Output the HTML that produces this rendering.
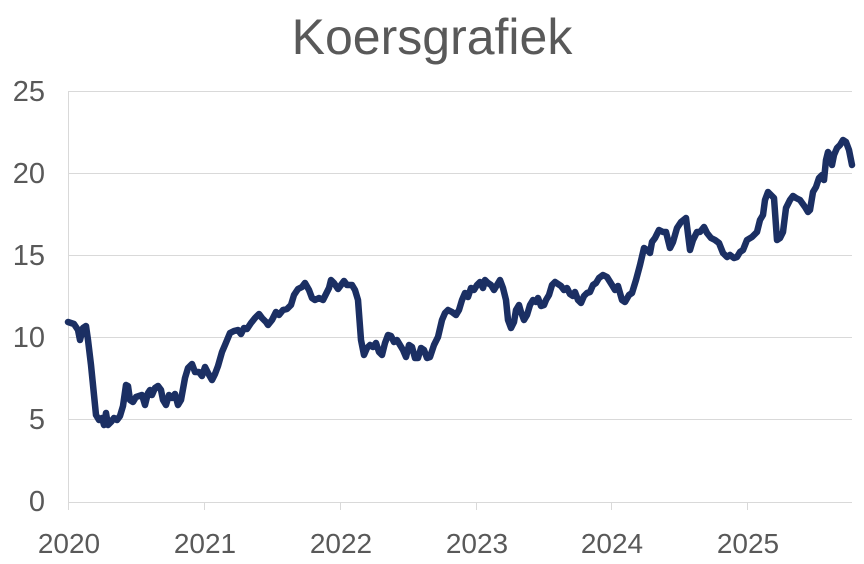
<!DOCTYPE html>
<html><head><meta charset="utf-8"><style>
html,body{margin:0;padding:0;background:#fff;}
svg{display:block;font-family:"Liberation Sans",sans-serif;}
</style></head><body>
<svg width="864" height="564" viewBox="0 0 864 564">
<text x="432" y="54" text-anchor="middle" font-size="50" fill="#595959">Koersgrafiek</text>
<g stroke="#d9d9d9" stroke-width="1">
<line x1="68" y1="91.5" x2="852" y2="91.5"/>
<line x1="68" y1="173.5" x2="852" y2="173.5"/>
<line x1="68" y1="255.5" x2="852" y2="255.5"/>
<line x1="68" y1="337.5" x2="852" y2="337.5"/>
<line x1="68" y1="419.5" x2="852" y2="419.5"/>
<line x1="68.5" y1="91" x2="68.5" y2="502"/>
<line x1="68" y1="502.5" x2="852" y2="502.5"/>
<line x1="68.5" y1="502" x2="68.5" y2="510"/>
<line x1="204.5" y1="502" x2="204.5" y2="510"/>
<line x1="340.5" y1="502" x2="340.5" y2="510"/>
<line x1="476.5" y1="502" x2="476.5" y2="510"/>
<line x1="611.5" y1="502" x2="611.5" y2="510"/>
<line x1="747.5" y1="502" x2="747.5" y2="510"/>
</g>
<g font-size="29" fill="#595959" text-anchor="end">
<text x="45" y="101">25</text>
<text x="45" y="183">20</text>
<text x="45" y="265">15</text>
<text x="45" y="347">10</text>
<text x="45" y="429">5</text>
<text x="45" y="511">0</text>
</g>
<g font-size="28" fill="#595959" text-anchor="middle">
<text x="69" y="553">2020</text>
<text x="205" y="553">2021</text>
<text x="341" y="553">2022</text>
<text x="477" y="553">2023</text>
<text x="612" y="553">2024</text>
<text x="748" y="553">2025</text>
</g>
<polyline fill="none" stroke="#1b2f63" stroke-width="6.5" stroke-linejoin="round" stroke-linecap="round" points="
68,322 74,324 78,330 80,340 83,328 86,326 88,340 91,365 94,395 96,415 99,420 102,418 104,425 106,413 108,425 111,422 114,418 117,420 120,416 123,406 126,385 128,386 130,400 133,402 136,397 139,396 142,395 145,405 148,393 150,390 152,395 155,388 158,386 161,390 163,400 166,405 169,395 172,398 175,394 178,405 181,400 185,378 188,368 192,364 195,372 199,372 202,376 205,367 208,373 212,380 215,374 218,366 222,352 225,345 230,333 234,331 238,330 241,334 244,328 247,329 251,323 255,318 259,314 262,318 266,322 268,325 272,320 276,312 279,315 283,310 287,309 291,305 294,295 298,289 302,287 305,283 309,290 312,298 315,300 319,298 323,300 326,294 329,288 331,280 334,283 338,289 341,285 344,281 347,285 352,285 355,290 358,300 361,340 364,355 367,348 370,345 373,347 376,343 379,352 382,355 385,343 388,335 391,336 394,342 397,340 400,345 403,350 406,357 409,345 412,347 415,358 418,358 421,348 424,350 427,358 430,357 434,345 438,337 442,320 445,313 448,310 452,312 456,315 459,310 462,300 465,293 468,297 471,288 474,290 477,285 480,282 483,288 485,280 488,283 491,285 494,290 497,285 500,280 503,288 506,300 508,320 511,328 514,322 516,310 519,305 521,312 524,320 527,315 530,305 533,300 536,302 538,298 541,306 544,305 546,300 549,295 552,285 555,282 558,284 561,286 564,290 567,288 570,294 573,296 575,292 578,300 581,303 584,296 587,293 590,292 593,285 596,283 599,278 603,275 607,277 612,285 615,290 618,286 622,300 625,302 629,295 632,293 636,280 640,265 644,248 647,250 650,253 652,242 655,238 659,230 663,232 666,232 670,248 673,242 677,228 681,222 686,218 690,250 693,240 697,232 700,232 704,227 707,233 711,238 715,240 719,243 723,253 727,257 730,255 734,258 737,257 740,252 743,250 747,240 752,237 757,232 760,220 763,215 765,200 768,192 771,195 774,198 777,240 780,238 783,232 786,208 790,200 793,196 796,198 800,200 805,207 808,212 810,210 813,192 816,187 819,178 822,175 824,180 826,160 828,152 830,155 832,165 834,155 837,148 840,145 843,140 846,142 849,150 852,165"/>
</svg>
</body></html>
